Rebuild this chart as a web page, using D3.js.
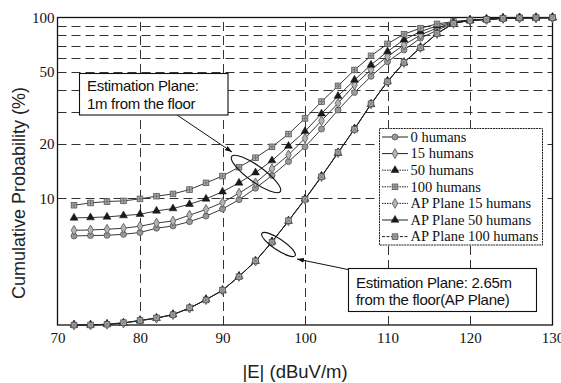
<!DOCTYPE html>
<html>
<head>
<meta charset="utf-8">
<script src="https://cdn.jsdelivr.net/npm/d3@7"></script>
<style>
  body { margin: 0; background: #fff; }
  svg { display: block; }
</style>
</head>
<body>
<svg width="561" height="383"></svg>
<script>
// data
const xValues = [72, 74, 76, 78, 80, 82, 84, 86, 88, 90, 92, 94, 96, 98, 100,
                 102, 104, 106, 108, 110, 112, 114, 116, 118, 120, 122, 124, 126, 128, 130];

const humans0   = [6.21, 6.24, 6.26, 6.34, 6.49, 6.85, 7.05, 7.45, 8.0, 8.75, 9.85, 11.4, 13.4, 16.0, 19.3,
                   24.2, 30.8, 38.5, 47.3, 57.0, 66.2, 76.9, 85.0, 93.2, 96.5, 97.6, 99.0, 99.5, 99.7, 99.8];
const humans15  = [6.67, 6.70, 6.76, 6.85, 7.03, 7.32, 7.51, 8.09, 8.7, 9.5, 10.7, 12.2, 14.6, 17.4, 21.5,
                   26.9, 33.6, 42.4, 51.5, 60.8, 70.6, 80.1, 87.5, 93.8, 96.6, 97.7, 99.0, 99.5, 99.7, 99.8];
const humans50  = [7.81, 7.85, 7.91, 8.05, 8.18, 8.54, 8.80, 9.3, 9.95, 10.9, 12.2, 13.9, 16.2, 19.5, 23.5,
                   29.4, 36.8, 45.2, 54.7, 64.9, 75.3, 83.6, 90.0, 94.3, 96.7, 97.8, 99.0, 99.5, 99.7, 99.8];
const humans100 = [9.18, 9.45, 9.62, 9.70, 9.95, 10.3, 10.6, 11.2, 12.2, 13.3, 14.9, 16.8, 19.3, 22.7, 27.7,
                   34.3, 41.9, 51.3, 61.4, 71.5, 80.9, 87.3, 92.2, 95.0, 96.8, 97.8, 99.0, 99.5, 99.7, 99.8];
const ap15      = [2.0, 2.0, 2.02, 2.05, 2.12, 2.18, 2.28, 2.48, 2.76, 3.11, 3.71, 4.51, 5.75, 7.52, 9.9,
                   13.2, 17.9, 24.2, 33.3, 44.3, 56.4, 68.2, 81.5, 92.8, 96.4, 97.6, 99.0, 99.5, 99.7, 99.8];
const ap50      = [2.0, 2.0, 2.02, 2.05, 2.11, 2.18, 2.29, 2.47, 2.77, 3.10, 3.72, 4.50, 5.78, 7.50, 9.95,
                   13.3, 17.8, 24.3, 33.1, 44.5, 56.2, 68.4, 81.3, 92.9, 96.4, 97.6, 99.0, 99.5, 99.7, 99.8];
const ap100     = [2.0, 2.0, 2.02, 2.06, 2.12, 2.19, 2.28, 2.49, 2.75, 3.12, 3.70, 4.52, 5.74, 7.55, 9.9,
                   13.2, 18.0, 24.1, 33.4, 44.2, 56.5, 68.1, 81.6, 92.7, 96.4, 97.6, 99.0, 99.5, 99.7, 99.8];

const seriesNames = ["0 humans", "15 humans", "50 humans", "100 humans",
                     "AP Plane 15 humans", "AP Plane 50 humans", "AP Plane 100 humans"];
const seriesData = [humans0, humans15, humans50, humans100, ap15, ap50, ap100];
const seriesMarkers = ["circle", "diamond", "triangle", "square", "diamond", "triangle", "squarex"];
const legendDash = ["none", "none", "1.5,1", "1.5,1", "1.5,1", "none", "3,1.5"];

const xTicks = [70, 80, 90, 100, 110, 120, 130];
const xGrid = [80, 90, 100, 110, 120];
const yTicks = [10, 20, 50, 100];
const yGrid = [10, 20, 30, 40, 50, 60, 70, 80, 90];

// ------------------------------------------------
const svg = d3.select("svg");
const W = 561, H = 383;
const m = {left: 57.5, right: 552.5, top: 17.5, bottom: 325};

const x = d3.scaleLinear().domain([70, 130]).range([m.left, m.right]);
const y = d3.scaleLog().domain([2, 100]).range([m.bottom, m.top]);

svg.append("rect").attr("width", W).attr("height", H).attr("fill", "#fff");

// grid
const grid = svg.append("g")
  .attr("stroke", "#333")
  .attr("stroke-width", 1)
  .attr("stroke-dasharray", "9,5");

grid.selectAll(".gh").data(yGrid).join("line").attr("class", "gh")
  .attr("x1", m.left).attr("x2", m.right)
  .attr("y1", d => Math.round(y(d)) + 0.5).attr("y2", d => Math.round(y(d)) + 0.5);

grid.selectAll(".gv").data(xGrid).join("line").attr("class", "gv")
  .attr("y1", m.bottom).attr("y2", m.top)
  .attr("x1", d => Math.round(x(d)) + 0.5).attr("x2", d => Math.round(x(d)) + 0.5);

// axes
const xAxis = d3.axisBottom(x).tickValues(xTicks).tickSize(0).tickPadding(7).tickFormat(d3.format("d"));
svg.append("g")
  .attr("transform", `translate(0,${m.bottom})`)
  .call(xAxis)
  .attr("font-family", "'Liberation Serif', serif")
  .attr("font-size", 15)
  .call(g => g.select(".domain").remove())
  .selectAll("text").attr("fill", "#111");

const yAxis = d3.axisLeft(y).tickValues(yTicks).tickSize(0).tickPadding(3).tickFormat(d3.format("d"));
svg.append("g")
  .attr("transform", `translate(${m.left},0)`)
  .call(yAxis)
  .attr("font-family", "'Liberation Serif', serif")
  .attr("font-size", 15)
  .call(g => g.select(".domain").remove())
  .selectAll("text").attr("fill", "#111");

// frame
svg.append("rect")
  .attr("x", m.left).attr("y", m.top)
  .attr("width", m.right - m.left).attr("height", m.bottom - m.top)
  .attr("fill", "none").attr("stroke", "#111").attr("stroke-width", 1.3);

// markers
function drawMarker(g, type, cx, cy) {
  if (type === "circle") {
    g.append("circle").attr("cx", cx).attr("cy", cy).attr("r", 3)
      .attr("fill", "#9a9a9a").attr("stroke", "#555").attr("stroke-width", 0.8);
  } else if (type === "diamond") {
    g.append("path").attr("transform", `translate(${cx},${cy})`)
      .attr("d", d3.symbol(d3.symbolDiamond, 28)())
      .attr("fill", "#b5b5b5").attr("stroke", "#555").attr("stroke-width", 0.8);
  } else if (type === "triangle") {
    g.append("path").attr("transform", `translate(${cx},${cy})`)
      .attr("d", d3.symbol(d3.symbolTriangle, 27)())
      .attr("fill", "#1a1a1a").attr("stroke", "#111").attr("stroke-width", 0.5);
  } else {
    g.append("rect").attr("x", cx - 2.8).attr("y", cy - 2.8).attr("width", 5.6).attr("height", 5.6)
      .attr("fill", "#aaa").attr("stroke", "#555").attr("stroke-width", 0.8);
    const d = type === "squarex"
      ? `M${cx - 2.1},${cy - 2.1}L${cx + 2.1},${cy + 2.1}M${cx + 2.1},${cy - 2.1}L${cx - 2.1},${cy + 2.1}`
      : `M${cx - 2.6},${cy}L${cx + 2.6},${cy}M${cx},${cy - 2.6}L${cx},${cy + 2.6}`;
    g.append("path").attr("d", d).attr("stroke", "#666").attr("stroke-width", 0.7);
  }
}

const line = d3.line().x(d => x(d[0])).y(d => y(d[1]));

seriesData.forEach((vals, i) => {
  const pts = xValues.map((xv, j) => [xv, vals[j]]);
  const g = svg.append("g");
  g.append("path").datum(pts).attr("d", line)
    .attr("fill", "none").attr("stroke", "#222").attr("stroke-width", 0.9);
  pts.forEach(p => drawMarker(g, seriesMarkers[i], x(p[0]), y(p[1])));
});

// annotations
const ann = svg.append("g");
ann.append("defs").append("marker")
  .attr("id", "arr").attr("viewBox", "0 0 10 10").attr("refX", 10).attr("refY", 5)
  .attr("markerWidth", 7).attr("markerHeight", 7).attr("orient", "auto")
  .append("path").attr("d", "M0,1.5L10,5L0,8.5Z").attr("fill", "#111");

ann.append("ellipse").attr("cx", 0).attr("cy", 0).attr("rx", 30).attr("ry", 8)
  .attr("transform", "translate(256,174) rotate(36)")
  .attr("fill", "none").attr("stroke", "#111").attr("stroke-width", 1.1);
ann.append("ellipse").attr("cx", 0).attr("cy", 0).attr("rx", 20).attr("ry", 5.5)
  .attr("transform", "translate(278.5,244.5) rotate(34)")
  .attr("fill", "none").attr("stroke", "#111").attr("stroke-width", 1.1);

ann.append("line").attr("x1", 177).attr("y1", 115).attr("x2", 232).attr("y2", 152)
  .attr("stroke", "#111").attr("stroke-width", 1).attr("marker-end", "url(#arr)");
ann.append("line").attr("x1", 348).attr("y1", 269.5).attr("x2", 297).attr("y2", 259)
  .attr("stroke", "#111").attr("stroke-width", 1).attr("marker-end", "url(#arr)");

function textBox(x0, y0, w, h, lines, tx, ty) {
  ann.append("rect").attr("x", x0).attr("y", y0).attr("width", w).attr("height", h)
    .attr("fill", "#fff").attr("stroke", "#111").attr("stroke-width", 1.1);
  lines.forEach((t, k) => {
    ann.append("text").attr("x", tx).attr("y", ty + k * 17.5).text(t)
      .attr("font-family", "'Liberation Sans', Arial, sans-serif")
      .attr("font-size", 15).attr("letter-spacing", -0.3).attr("fill", "#111");
  });
}
textBox(79.5, 73.5, 148.5, 41.5, ["Estimation Plane:", "1m from the floor"], 87, 91);
textBox(348.5, 268.5, 188, 43, ["Estimation Plane: 2.65m", "from the floor(AP Plane)"], 356, 287.5);

// legend
const lg = svg.append("g");
lg.append("rect").attr("x", 379.5).attr("y", 128.5).attr("width", 163).attr("height", 116.5)
  .attr("fill", "#fff").attr("stroke", "#222").attr("stroke-width", 1).attr("stroke-dasharray", "2,0.7");
seriesNames.forEach((name, i) => {
  const cy = 137 + i * 16.6;
  lg.append("line").attr("x1", 382).attr("x2", 408).attr("y1", cy).attr("y2", cy)
    .attr("stroke", "#222").attr("stroke-width", 1)
    .attr("stroke-dasharray", legendDash[i] === "none" ? null : legendDash[i]);
  drawMarker(lg, seriesMarkers[i], 395, cy);
  lg.append("text").attr("x", 410.5).attr("y", cy + 4.8).text(name)
    .attr("font-family", "'Liberation Serif', serif").attr("font-size", 14.5).attr("fill", "#111");
});

// axis titles
svg.append("text")
  .attr("transform", "translate(25,193) rotate(-90)")
  .attr("text-anchor", "middle")
  .attr("font-family", "'Liberation Sans', Arial, sans-serif")
  .attr("font-size", 18).attr("fill", "#222")
  .text("Cumulative Probability (%)");

svg.append("text")
  .attr("x", 295).attr("y", 378)
  .attr("text-anchor", "middle")
  .attr("font-family", "'Liberation Sans', Arial, sans-serif")
  .attr("font-size", 18.5).attr("fill", "#222")
  .text("|E| (dBuV/m)");
</script>
</body>
</html>
